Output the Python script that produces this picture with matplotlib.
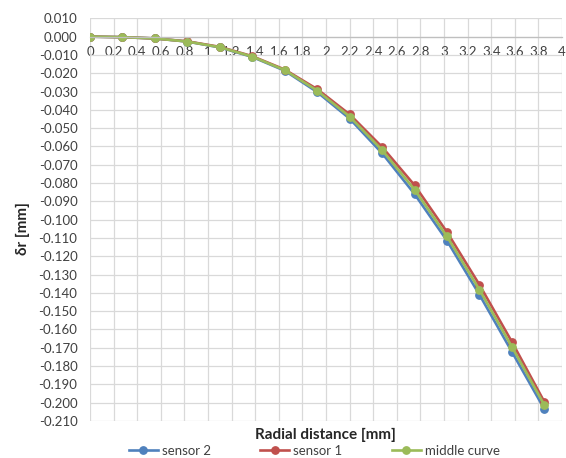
import matplotlib.pyplot as plt
from matplotlib.ticker import MultipleLocator, FormatStrFormatter

# radial positions [mm]
radial = [0, 0.275, 0.55, 0.825, 1.1, 1.375, 1.65, 1.925, 2.2, 2.475,
          2.75, 3.025, 3.3, 3.575, 3.85]

# deformation dr [mm]
sensor2 = [0, -0.0003, -0.0010, -0.0027, -0.0059, -0.0111, -0.0186, -0.0303,
           -0.0448, -0.0637, -0.0860, -0.1115, -0.1410, -0.1722, -0.2035]
sensor1 = [0, -0.0003, -0.0010, -0.0026, -0.0056, -0.0107, -0.0180, -0.0287,
           -0.0425, -0.0603, -0.0812, -0.1068, -0.1356, -0.1668, -0.1996]
middle = [0, -0.0003, -0.0010, -0.0027, -0.0058, -0.0109, -0.0183, -0.0295,
          -0.0437, -0.0620, -0.0836, -0.1092, -0.1383, -0.1695, -0.2013]

plt.rcParams['font.family'] = ['Lato', 'DejaVu Sans']
plt.rcParams['axes.unicode_minus'] = False

fig = plt.figure(figsize=(5.66, 4.58), dpi=100)
ax = fig.add_axes([0.159, 0.081, 0.834, 0.879])

series = [
    (sensor2, 'sensor 2', '#4F81BD'),
    (sensor1, 'sensor 1', '#C0504D'),
    (middle, 'middle curve', '#9BBB59'),
]
for vals, name, color in series:
    ax.plot(radial, vals, color=color, lw=1.9, marker='o', ms=5.3, label=name)

ax.set_xlim(0, 4)
ax.set_ylim(-0.21, 0.01)
ax.xaxis.set_major_locator(MultipleLocator(0.2))
ax.xaxis.set_major_formatter(FormatStrFormatter('%g'))
ax.yaxis.set_major_locator(MultipleLocator(0.01))
ax.yaxis.set_major_formatter(FormatStrFormatter('%.3f'))

ax.grid(True, color='#D9D9D9', lw=0.9)
ax.set_axisbelow(True)
for s in ['top', 'right', 'left']:
    ax.spines[s].set_visible(False)
ax.spines['bottom'].set_position(('data', 0))
ax.spines['bottom'].set_color('#BFBFBF')
ax.spines['bottom'].set_linewidth(0.9)

ax.tick_params(axis='both', length=0, labelsize=9.5, colors='#404040')
ax.tick_params(axis='x', pad=7)
ax.tick_params(axis='y', pad=9)

fig.text(0.041, 0.502, 'δr [mm]', rotation=90, ha='center', va='center',
         fontsize=11, fontweight='bold', color='#262626')
fig.text(0.575, 0.05, 'Radial distance [mm]', ha='center', va='center',
         fontsize=11, fontweight='bold', color='#262626')

leg = fig.legend(loc='center', bbox_to_anchor=(0.555, 0.016), ncol=3,
                 frameon=False, fontsize=9.5, handlelength=2.2,
                 handletextpad=0.3, columnspacing=3.75, borderaxespad=0)
for t in leg.get_texts():
    t.set_color('#404040')

fig.savefig('out.png', dpi=100)
